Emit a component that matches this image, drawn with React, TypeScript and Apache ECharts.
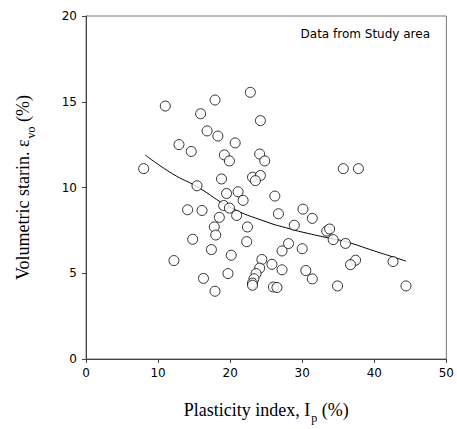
import React, { useEffect, useRef } from "react";
import * as echarts from "echarts";

const pointX = [
  8.0, 11.0, 15.9, 16.8, 12.9, 14.6, 17.9, 22.8, 24.2, 18.3, 20.7, 19.2, 19.9, 24.1, 24.8,
  18.8, 23.1, 24.2, 23.5, 15.4, 19.5, 21.1, 26.2, 21.8, 14.1, 16.1, 19.1, 19.9, 20.9, 26.7,
  18.5, 17.8, 18.0, 22.4, 14.8, 22.3, 17.4, 20.15, 12.2, 28.1, 27.2, 24.4, 25.8, 27.2, 24.1,
  23.6, 23.3, 23.1, 23.1, 19.7, 16.3, 17.9, 26.0, 26.5, 30.1, 31.4, 28.9, 33.4, 33.8, 34.3,
  36.0, 30.0, 37.4, 36.7, 42.6, 30.5, 31.4, 34.9, 44.4, 35.7, 37.8,
];
const pointY = [
  11.1, 14.75, 14.3, 13.3, 12.5, 12.1, 15.1, 15.55, 13.9, 13.0, 12.6, 11.9, 11.55, 11.95, 11.55,
  10.5, 10.6, 10.7, 10.4, 10.1, 9.65, 9.75, 9.5, 9.25, 8.7, 8.66, 8.95, 8.8, 8.37, 8.47,
  8.26, 7.7, 7.23, 7.7, 6.98, 6.84, 6.38, 6.05, 5.74, 6.73, 6.3, 5.8, 5.52, 5.2, 5.3,
  4.98, 4.68, 4.42, 4.3, 4.98, 4.7, 3.95, 4.2, 4.17, 8.74, 8.2, 7.8, 7.46, 7.58, 6.96,
  6.74, 6.43, 5.76, 5.5, 5.68, 5.16, 4.67, 4.26, 4.26, 11.1, 11.1,
];

const trendX = [8.2, 12, 15.4, 20, 25, 28.2, 30, 34.3, 36, 40, 42.6, 44.4];
const trendY = [11.9, 10.8, 10.05, 8.85, 8.0, 7.6, 7.4, 7.0, 6.85, 6.3, 5.95, 5.71];

const xTicks = [0, 10, 20, 30, 40, 50];
const yTicks = [0, 5, 10, 15, 20];

const annotation = "Data from Study area";

export default function App() {
  const ref = useRef<HTMLDivElement>(null);
  useEffect(() => {
    if (!ref.current) return;
    const chart = echarts.init(ref.current, undefined, { renderer: "svg" });
    const axisColor = "#444";
    const tickFont = { fontFamily: "DejaVu Sans", fontSize: 12, color: "#000" };
    const richName = {
      m: { fontFamily: "Liberation Serif", fontSize: 18, color: "#000", lineHeight: 22 },
      s: { fontFamily: "Liberation Serif", fontSize: 12, color: "#000", lineHeight: 22, padding: [16, 0, 0, 1] },
    };
    chart.setOption({
      animation: false,
      backgroundColor: "#fff",
      grid: {
        left: 86,
        right: 9,
        top: 16,
        bottom: 69,
        show: true,
        borderColor: "#777",
        borderWidth: 1,
      },
      xAxis: {
        type: "value",
        min: xTicks[0],
        max: xTicks[xTicks.length - 1],
        interval: 10,
        splitLine: { show: false },
        axisLine: { show: true, lineStyle: { color: axisColor, width: 1 } },
        axisTick: { show: true, length: 4, lineStyle: { color: axisColor } },
        axisLabel: { ...tickFont, margin: 8 },
        name: "{m|Plasticity index, I}{s|p}{m| (%)}",
        nameLocation: "middle",
        nameGap: 40,
        nameTextStyle: { rich: richName },
      },
      yAxis: {
        type: "value",
        min: yTicks[0],
        max: yTicks[yTicks.length - 1],
        interval: 5,
        splitLine: { show: false },
        axisLine: { show: true, lineStyle: { color: axisColor, width: 1 } },
        axisTick: { show: true, length: 4, lineStyle: { color: axisColor } },
        axisLabel: { ...tickFont, margin: 9 },
        name: "{m|Volumetric starin. ε}{s|vo}{m| (%)}",
        nameLocation: "middle",
        nameRotate: 90,
        nameGap: 52,
        nameTextStyle: { rich: richName },
      },
      graphic: [
        {
          type: "text",
          right: 27,
          top: 28,
          style: {
            text: annotation,
            fontFamily: "DejaVu Sans",
            fontSize: 12,
            fill: "#000",
          },
        },
      ],
      series: [
        {
          type: "line",
          data: trendX.map((x, i) => [x, trendY[i]]),
          smooth: true,
          showSymbol: false,
          symbol: "none",
          lineStyle: { color: "#000", width: 1 },
          z: 2,
        },
        {
          type: "scatter",
          data: pointX.map((x, i) => [x, pointY[i]]),
          symbol: "circle",
          symbolSize: 10,
          itemStyle: { color: "#fff", borderColor: "#000", borderWidth: 1 },
          z: 3,
        },
      ],
    });
    return () => chart.dispose();
  }, []);
  return (
    <div
      ref={ref}
      style={{ position: "fixed", left: 0, top: 0, width: 457, height: 429, background: "#fff" }}
    />
  );
}
